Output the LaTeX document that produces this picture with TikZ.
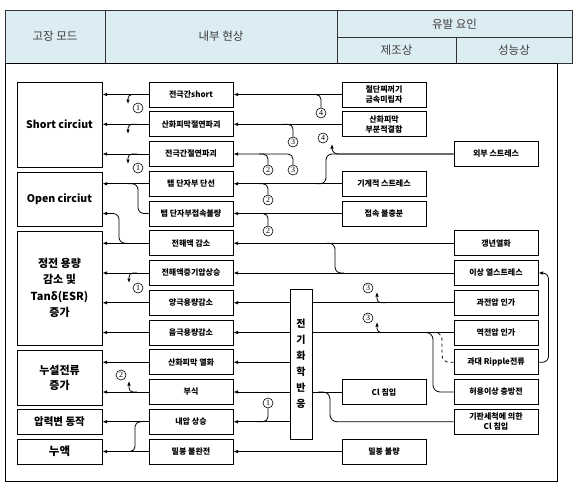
\documentclass[tikz,border=0pt]{standalone}
\usepackage{fontspec}
\setmainfont{Noto Sans CJK KR}
\newfontfamily\numfont{Liberation Serif}
\usetikzlibrary{arrows.meta,calc}
\definecolor{hdr}{RGB}{220,236,243}
\definecolor{hdrtext}{RGB}{60,60,60}
\begin{document}
\begin{tikzpicture}[x=1pt,y=1pt,
  box/.style={draw=black, line width=1pt, fill=white, minimum width=84pt, minimum height=25pt, inner sep=1pt, align=center, font=\fontsize{8}{10}\selectfont\bfseries},
  lbox/.style={draw=black, line width=1pt, minimum width=85pt, inner sep=1pt, align=center, font=\fontsize{10.5}{15}\selectfont\bfseries},
  conn/.style={line width=0.8pt},
  arr/.style={conn, -{Latex[length=4.5pt,width=3.6pt]}},
  num/.style={circle, draw=black, line width=0.6pt, minimum size=10pt, inner sep=0pt, font=\fontsize{8}{8}\selectfont\numfont},
  hdrtxt/.style={font=\fontsize{11.5}{12}\selectfont, text=hdrtext}
]
\useasboundingbox (0,0) rectangle (576,-483);
% header
\draw[line width=0.8pt, draw=black!80, fill=hdr] (5,-10) rectangle (572,-63);
\draw[line width=0.8pt, draw=black!80] (105,-10) -- (105,-63) (337,-10) -- (337,-63) (337,-37) -- (572,-37) (456,-37) -- (456,-63);
\node[hdrtxt] (hA) at (55,-36.5) {고장 모드};
\node[hdrtxt] (hB) at (221,-36.5) {내부 현상};
\node[hdrtxt] (hC) at (454.5,-24) {유발 요인};
\node[hdrtxt] (hD) at (396.5,-50.5) {제조상};
\node[hdrtxt] (hE) at (514,-50.5) {성능상};
% body frame
\draw[line width=0.8pt] (5,-63) rectangle (557,-481);
% left column
\node[lbox, minimum height=85pt] (L1) at (59.5,-124.5) {Short circiut};
\node[lbox, minimum height=54pt] (L2) at (59.5,-199) {Open circiut};
\node[lbox, minimum height=114pt, font=\fontsize{11}{16.5}\selectfont\bfseries] (L3) at (59.5,-288) {정전 용량\\감소 및\\Tanδ(ESR)\\증가};
\node[lbox, minimum height=55pt, font=\fontsize{11}{15}\selectfont\bfseries] (L4) at (59.5,-377.5) {누설전류\\증가};
\node[lbox, minimum height=25pt] (L5) at (59.5,-421.5) {압력변 동작};
\node[lbox, minimum height=25pt, font=\fontsize{11.5}{12}\selectfont\bfseries] (L6) at (59.5,-451.5) {누액};
% middle column
\node[box] (M1) at (191,-94.5) {전극간short};
\node[box] (M2) at (191,-124.25) {산화피막절연파괴};
\node[box] (M3) at (191,-154) {전극간절연파괴};
\node[box] (M4) at (191,-183.75) {탭 단자부 단선};
\node[box] (M5) at (191,-213.5) {탭 단자부접속불량};
\node[box] (M6) at (191,-243.25) {전해액 감소};
\node[box] (M7) at (191,-273) {전해액증기압상승};
\node[box] (M8) at (191,-302.75) {양극용량감소};
\node[box] (M9) at (191,-332.5) {음극용량감소};
\node[box] (M10) at (191,-362.25) {산화피막 열화};
\node[box] (M11) at (191,-392) {부식};
\node[box] (M12) at (191,-421.75) {내압 상승};
\node[box] (M13) at (191,-451.5) {밀봉 불완전};
% manufacturing causes
\node[box] (F1) at (384,-94.5) {절단찌꺼기\\금속미립자};
\node[box] (F2) at (384,-124.25) {산화피막\\부분적결함};
\node[box] (F4) at (384,-183.75) {기계적 스트레스};
\node[box] (F5) at (384,-213.5) {접속 불충분};
\node[box] (F11) at (384,-392) {Cl 침입};
\node[box] (F13) at (384,-451.5) {밀봉 불량};
% performance causes
\node[box] (P3) at (496,-154) {외부 스트레스};
\node[box] (P6) at (496,-243.25) {갱년열화};
\node[box] (P7) at (496,-273) {이상 열스트레스};
\node[box] (P8) at (496,-302.75) {과전압 인가};
\node[box] (P9) at (496,-332.5) {역전압 인가};
\node[box] (P10) at (496,-362.25) {과대 Ripple전류};
\node[box] (P11) at (496,-392) {허용이상 충방전};
\node[box] (P12) at (496,-421.75) {기판세척에 의한\\Cl 침입};
% electrochemical reaction
\node[box, minimum width=22pt, minimum height=150pt, font=\fontsize{10}{16}\selectfont\bfseries] (E) at (301,-364) {전\\기\\화\\학\\반\\응};
% number labels
\node[num] (n14) at (321,-113) {4};
\node[num] (n23) at (293,-142) {3};
\node[num] (n32) at (268,-170) {2};
\node[num] (n33) at (293,-170) {3};
\node[num] (n34) at (323,-138) {4};
\node[num] (n42) at (268,-200) {2};
\node[num] (n52) at (268,-231) {2};
\node[num] (n83) at (368,-288) {3};
\node[num] (n93) at (368,-318) {3};
\node[num] (n121) at (268,-403) {1};
\node[num] (l11) at (138,-108) {1};
\node[num] (l31) at (138,-168) {1};
\node[num] (l71) at (138,-288) {1};
\node[num] (l112) at (121,-375) {2};
% right -> middle
\draw[arr] (F1.west) -- (M1.east);
\draw[arr] (F2.west) -- (M2.east);
\draw[arr, rounded corners=5pt] (n33.north) |- (M3.east);
\draw[arr] (F4.west) -- (M4.east);
\draw[arr] (F5.west) -- (M5.east);
\draw[arr] (P6.west) -- (M6.east);
\draw[arr] (P7.west) -- (M7.east);
\draw[conn] (P8.west) -- (E.east |- P8.west);
\draw[arr] (E.west |- M8.east) -- (M8.east);
\draw[conn] (P9.west) -- (E.east |- P9.west);
\draw[arr] (E.west |- M9.east) -- (M9.east);
\draw[arr] (E.west |- M10.east) -- (M10.east);
\draw[arr] (E.west |- M11.east) -- (M11.east);
\draw[conn] (F11.west) -- (E.east |- F11.west);
\draw[arr] (E.west |- M12.east) -- (M12.east);
\draw[arr] (F13.west) -- (M13.east);
% external stress branches
\coordinate (t4) at (332,-144);
\draw[arr, rounded corners=6pt] (P3.west) -| (t4);
\coordinate (j4) at (316,-183.75);
\draw[conn, rounded corners=6pt] (P3.west) -| (326,-183.75) -- (j4);
% rows 6-7 link
\draw[conn, rounded corners=6pt] (326,-243.25) -| (335,-273) -- (344,-273);
% ripple -> thermal stress
\draw[arr, rounded corners=6pt] (P10.east) -- ++(10,0) |- (P7.east);
% into reverse-voltage line
\draw[conn, rounded corners=7pt] (P11.west) -| (433,-332.5) -- (420,-332.5);
\draw[conn, dashed, rounded corners=7pt] (P10.west) -| (442,-332.5) -- (434,-332.5);
% substrate cleaning -> Cl line
\draw[conn, rounded corners=7pt] (P12.west) -| (330,-392) -- (318,-392);
% right hooks
\draw[conn, rounded corners=5pt] (310,-94.5) -| (n14.north);
\draw[conn, rounded corners=5pt] (283,-124.25) -| (n23.north);
\draw[conn, rounded corners=5pt] (259,-154) -| (n32.north);
\draw[conn, rounded corners=5pt] (259,-183.75) -| (n42.north);
\draw[conn, rounded corners=5pt] (259,-213.5) -| (n52.north);
\draw[arr, rounded corners=4pt] (386,-302.75) -| (377,-292);
\draw[arr, rounded corners=4pt] (386,-332.5) -| (377,-322);
\draw[conn, rounded corners=5pt] (257,-421.75) -| (n121.south);
% middle -> left
\draw[arr] (M1.west) -- (L1.east |- M1.west);
\draw[arr] (M2.west) -- (L1.east |- M2.west);
\draw[arr] (M3.west) -- (L1.east |- M3.west);
\draw[arr] (M4.west) -- (L2.east |- M4.west);
\draw[arr] (M6.west) -- (L3.east |- M6.west);
\draw[arr] (M7.west) -- (L3.east |- M7.west);
\draw[arr] (M8.west) -- (L3.east |- M8.west);
\draw[arr] (M9.west) -- (L3.east |- M9.west);
\draw[arr] (M10.west) -- (L4.east |- M10.west);
\draw[arr] (M11.west) -- (L4.east |- M11.west);
\draw[arr] (M12.west) -- (L5.east |- M12.west);
\draw[arr] (M13.west) -- (L6.east |- M13.west);
\draw[conn, rounded corners=6pt] (M5.west) -| (138,-183.75) -- (128,-183.75);
\coordinate (y2) at (0,-213.5);
\draw[arr, rounded corners=6pt] (127,-243.25) -| (119,-213.5) -- (L2.east |- y2);
\draw[conn, rounded corners=5pt] (141,-421.75) -| (135,-451.5) -- (127,-451.5);
% left hooks
\draw[arr, rounded corners=4pt] (137,-94.5) -| (128,-104);
\draw[arr, rounded corners=4pt] (137,-124.25) -| (128,-134);
\draw[arr, rounded corners=4pt] (137,-154) -| (128,-164);
\draw[arr, rounded corners=4pt] (137,-273) -| (129,-283);
\draw[arr, rounded corners=4pt] (137,-392) -| (129,-381);
\end{tikzpicture}
\end{document}
